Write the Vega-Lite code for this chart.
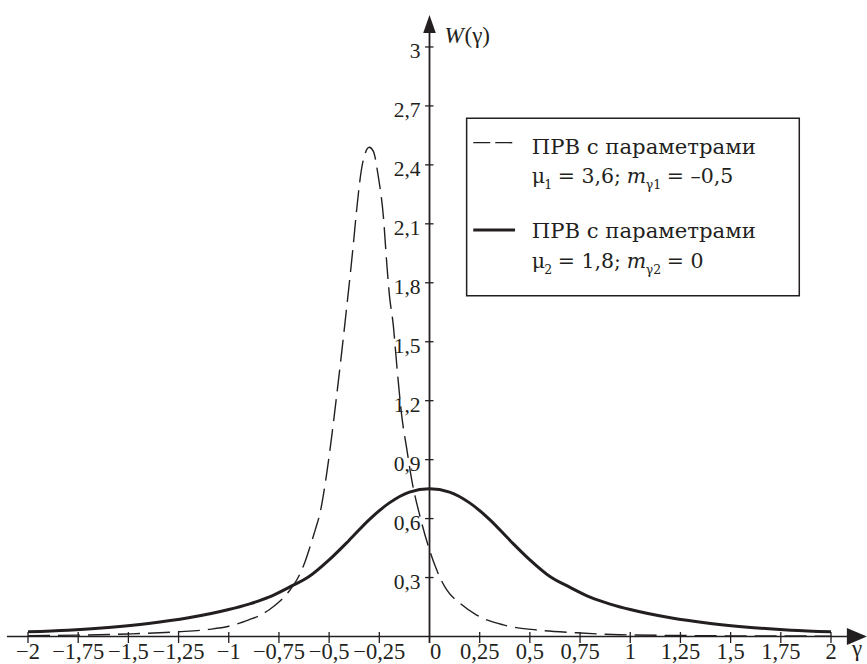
{
  "$schema": "https://vega.github.io/schema/vega-lite/v6.json",
  "width": 867,
  "height": 664,
  "autosize": {"type": "none"},
  "padding": 0,
  "background": "white",
  "config": {"view": {"stroke": null}, "text": {"color": "#231f20"}},
  "datasets": {
    "prv1": [
      {"g": -2.0, "w": 0.004}, {"g": -1.75, "w": 0.007}, {"g": -1.5, "w": 0.013}, {"g": -1.25, "w": 0.024},
      {"g": -1.1, "w": 0.036}, {"g": -1.0, "w": 0.052}, {"g": -0.9, "w": 0.085}, {"g": -0.85, "w": 0.105},
      {"g": -0.8, "w": 0.135}, {"g": -0.75, "w": 0.175}, {"g": -0.7, "w": 0.23}, {"g": -0.66, "w": 0.29},
      {"g": -0.62, "w": 0.38}, {"g": -0.595, "w": 0.457}, {"g": -0.57, "w": 0.54}, {"g": -0.545, "w": 0.63},
      {"g": -0.512, "w": 0.83}, {"g": -0.487, "w": 1.02}, {"g": -0.462, "w": 1.23}, {"g": -0.437, "w": 1.45},
      {"g": -0.412, "w": 1.68}, {"g": -0.395, "w": 1.84}, {"g": -0.38, "w": 1.99}, {"g": -0.363, "w": 2.17},
      {"g": -0.34, "w": 2.37}, {"g": -0.32, "w": 2.46}, {"g": -0.3, "w": 2.49}, {"g": -0.28, "w": 2.47},
      {"g": -0.255, "w": 2.34}, {"g": -0.23, "w": 2.14}, {"g": -0.213, "w": 1.9}, {"g": -0.2, "w": 1.74},
      {"g": -0.18, "w": 1.58}, {"g": -0.163, "w": 1.38}, {"g": -0.138, "w": 1.12}, {"g": -0.114, "w": 0.96},
      {"g": -0.089, "w": 0.8}, {"g": -0.047, "w": 0.61}, {"g": -0.006, "w": 0.46}, {"g": 0.036, "w": 0.338},
      {"g": 0.086, "w": 0.237}, {"g": 0.152, "w": 0.169}, {"g": 0.235, "w": 0.109}, {"g": 0.368, "w": 0.059},
      {"g": 0.534, "w": 0.033}, {"g": 0.733, "w": 0.019}, {"g": 0.949, "w": 0.009}, {"g": 1.25, "w": 0.005},
      {"g": 1.5, "w": 0.003}, {"g": 2.0, "w": 0.002}
    ],
    "prv2": [
      {"g": -2.0, "w": 0.024}, {"g": -1.8, "w": 0.032}, {"g": -1.6, "w": 0.046}, {"g": -1.4, "w": 0.066},
      {"g": -1.2, "w": 0.095}, {"g": -1.0, "w": 0.137}, {"g": -0.9, "w": 0.165}, {"g": -0.8, "w": 0.2},
      {"g": -0.7, "w": 0.25}, {"g": -0.6, "w": 0.305}, {"g": -0.5, "w": 0.39}, {"g": -0.4, "w": 0.49},
      {"g": -0.3, "w": 0.595}, {"g": -0.2, "w": 0.68}, {"g": -0.1, "w": 0.735}, {"g": 0.0, "w": 0.752},
      {"g": 0.1, "w": 0.735}, {"g": 0.2, "w": 0.68}, {"g": 0.3, "w": 0.595}, {"g": 0.4, "w": 0.49},
      {"g": 0.5, "w": 0.39}, {"g": 0.6, "w": 0.305}, {"g": 0.7, "w": 0.25}, {"g": 0.8, "w": 0.2},
      {"g": 0.9, "w": 0.165}, {"g": 1.0, "w": 0.137}, {"g": 1.2, "w": 0.095}, {"g": 1.4, "w": 0.066},
      {"g": 1.6, "w": 0.046}, {"g": 1.8, "w": 0.032}, {"g": 2.0, "w": 0.024}
    ],
    "xt": [
      {"v": -2, "t": "−2"}, {"v": -1.75, "t": "−1,75"}, {"v": -1.5, "t": "−1,5"}, {"v": -1.25, "t": "−1,25"},
      {"v": -1, "t": "−1"}, {"v": -0.75, "t": "−0,75"}, {"v": -0.5, "t": "−0,5"}, {"v": -0.25, "t": "−0,25"},
      {"v": 0.25, "t": "0,25"}, {"v": 0.5, "t": "0,5"}, {"v": 0.75, "t": "0,75"}, {"v": 1, "t": "1"},
      {"v": 1.25, "t": "1,25"}, {"v": 1.5, "t": "1,5"}, {"v": 1.75, "t": "1,75"}, {"v": 2, "t": "2"}
    ],
    "xt0": [{"v": 0, "t": "0"}],
    "yt": [
      {"v": 0.3, "t": "0,3"}, {"v": 0.6, "t": "0,6"}, {"v": 0.9, "t": "0,9"}, {"v": 1.2, "t": "1,2"},
      {"v": 1.5, "t": "1,5"}, {"v": 1.8, "t": "1,8"}, {"v": 2.1, "t": "2,1"}, {"v": 2.4, "t": "2,4"},
      {"v": 2.7, "t": "2,7"}, {"v": 3, "t": "3"}
    ],
    "one": [{}]
  },
  "layer": [
    {
      "data": {"name": "prv2"},
      "mark": {"type": "line", "interpolate": "monotone", "strokeWidth": 3, "color": "#231f20"},
      "encoding": {
        "x": {"field": "g", "type": "quantitative", "scale": {"domain": [-2.1395, 2.1793], "nice": false, "zero": false}, "axis": null},
        "y": {"field": "w", "type": "quantitative", "scale": {"domain": [-0.14, 3.239], "nice": false, "zero": false}, "axis": null}
      }
    },
    {
      "data": {"name": "prv1"},
      "mark": {"type": "line", "interpolate": "monotone", "strokeWidth": 1.4, "strokeDash": [22, 8], "color": "#231f20"},
      "encoding": {
        "x": {"field": "g", "type": "quantitative"},
        "y": {"field": "w", "type": "quantitative"}
      }
    },
    {
      "data": {"name": "one"},
      "mark": {"type": "rect", "fill": "white", "stroke": "#231f20", "strokeWidth": 1.5},
      "encoding": {
        "x": {"datum": 0.185, "type": "quantitative"},
        "x2": {"datum": 1.842},
        "y": {"datum": 2.637, "type": "quantitative"},
        "y2": {"datum": 1.734}
      }
    },
    {
      "data": {"name": "one"},
      "mark": {"type": "rule", "strokeWidth": 1.6, "color": "#231f20"},
      "encoding": {
        "x": {"datum": -2.105, "type": "quantitative"},
        "x2": {"datum": 2.13},
        "y": {"datum": 0, "type": "quantitative"}
      }
    },
    {
      "data": {"name": "one"},
      "mark": {"type": "rule", "strokeWidth": 1.8, "color": "#231f20"},
      "encoding": {
        "x": {"datum": 0, "type": "quantitative"},
        "y": {"datum": -0.033, "type": "quantitative"},
        "y2": {"datum": 3.12}
      }
    },
    {
      "data": {"name": "xt"},
      "mark": {"type": "rule", "strokeWidth": 1.3, "color": "#231f20"},
      "encoding": {
        "x": {"field": "v", "type": "quantitative"},
        "y": {"datum": -0.033, "type": "quantitative"},
        "y2": {"datum": 0.023}
      }
    },
    {
      "data": {"name": "yt"},
      "mark": {"type": "rule", "strokeWidth": 1.3, "color": "#231f20"},
      "encoding": {
        "y": {"field": "v", "type": "quantitative"},
        "x": {"datum": -0.022, "type": "quantitative"},
        "x2": {"datum": 0.02}
      }
    },
    {
      "data": {"name": "one"},
      "mark": {"type": "point", "shape": "M 1 0 L -1 -0.85 L -1 0.85 Z", "size": 400, "filled": true, "opacity": 1, "color": "#231f20"},
      "encoding": {
        "x": {"datum": 2.129, "type": "quantitative"},
        "y": {"datum": 0, "type": "quantitative"}
      }
    },
    {
      "data": {"name": "one"},
      "mark": {"type": "point", "shape": "M 0 -1 L 0.7 1 L -0.7 1 Z", "size": 324, "filled": true, "opacity": 1, "color": "#231f20"},
      "encoding": {
        "x": {"datum": 0, "type": "quantitative"},
        "y": {"datum": 3.117, "type": "quantitative"}
      }
    },
    {
      "data": {"name": "xt"},
      "mark": {"type": "text", "font": "Liberation Serif", "fontSize": 22.5, "align": "center", "baseline": "alphabetic", "dy": 23},
      "encoding": {
        "x": {"field": "v", "type": "quantitative"},
        "y": {"datum": 0, "type": "quantitative"},
        "text": {"field": "t"}
      }
    },
    {
      "data": {"name": "xt0"},
      "mark": {"type": "text", "font": "Liberation Serif", "fontSize": 22.5, "align": "center", "baseline": "alphabetic", "dy": 23, "dx": 6},
      "encoding": {
        "x": {"field": "v", "type": "quantitative"},
        "y": {"datum": 0, "type": "quantitative"},
        "text": {"field": "t"}
      }
    },
    {
      "data": {"name": "yt"},
      "mark": {"type": "text", "font": "Liberation Serif", "fontSize": 21.5, "align": "right", "baseline": "alphabetic", "dy": 11, "dx": -9},
      "encoding": {
        "y": {"field": "v", "type": "quantitative"},
        "x": {"datum": 0, "type": "quantitative"},
        "text": {"field": "t"}
      }
    },
    {
      "data": {"name": "one"},
      "mark": {"type": "text", "text": "W", "font": "Liberation Serif", "fontStyle": "italic", "fontSize": 23, "align": "left", "baseline": "alphabetic", "dx": 15, "dy": -3.5},
      "encoding": {
        "x": {"datum": 0, "type": "quantitative"},
        "y": {"datum": 3, "type": "quantitative"}
      }
    },
    {
      "data": {"name": "one"},
      "mark": {"type": "text", "text": "(γ)", "font": "Liberation Serif", "fontSize": 23, "align": "left", "baseline": "alphabetic", "dx": 35, "dy": -3.5},
      "encoding": {
        "x": {"datum": 0, "type": "quantitative"},
        "y": {"datum": 3, "type": "quantitative"}
      }
    },
    {
      "data": {"name": "one"},
      "mark": {"type": "text", "text": "γ", "font": "Liberation Serif", "fontSize": 23, "align": "left", "baseline": "alphabetic", "dx": 21, "dy": 20},
      "encoding": {
        "x": {"datum": 2, "type": "quantitative"},
        "y": {"datum": 0, "type": "quantitative"}
      }
    },
    {
      "data": {"name": "one"},
      "mark": {"type": "rule", "strokeWidth": 1.4, "strokeDash": [17, 5], "color": "#231f20"},
      "encoding": {
        "x": {"datum": 0.218, "type": "quantitative"},
        "x2": {"datum": 0.417},
        "y": {"datum": 2.513, "type": "quantitative"}
      }
    },
    {
      "data": {"name": "one"},
      "mark": {"type": "rule", "strokeWidth": 3, "color": "#231f20"},
      "encoding": {
        "x": {"datum": 0.218, "type": "quantitative"},
        "x2": {"datum": 0.426},
        "y": {"datum": 2.069, "type": "quantitative"}
      }
    },
    {
      "data": {"name": "one"},
      "mark": {"type": "text", "text": "ПРВ с параметрами", "font": "DejaVu Serif", "fontSize": 21.2, "align": "left", "baseline": "alphabetic"},
      "encoding": {"x": {"datum": 0.509, "type": "quantitative"}, "y": {"datum": 2.455, "type": "quantitative"}}
    },
    {
      "data": {"name": "one"},
      "mark": {"type": "text", "text": "ПРВ с параметрами", "font": "DejaVu Serif", "fontSize": 21.2, "align": "left", "baseline": "alphabetic"},
      "encoding": {"x": {"datum": 0.509, "type": "quantitative"}, "y": {"datum": 2.026, "type": "quantitative"}}
    },
    {
      "data": {"name": "one"},
      "mark": {"type": "text", "text": "μ", "font": "DejaVu Serif", "fontSize": 20.5, "align": "left", "baseline": "alphabetic"},
      "encoding": {"x": {"datum": 0.509, "type": "quantitative"}, "y": {"datum": 2.308, "type": "quantitative"}}
    },
    {
      "data": {"name": "one"},
      "mark": {"type": "text", "text": "1", "font": "DejaVu Serif", "fontSize": 12.5, "align": "left", "baseline": "alphabetic", "dx": 12.5, "dy": 6},
      "encoding": {"x": {"datum": 0.509, "type": "quantitative"}, "y": {"datum": 2.308, "type": "quantitative"}}
    },
    {
      "data": {"name": "one"},
      "mark": {"type": "text", "text": "= 3,6;", "font": "DejaVu Serif", "fontSize": 20.5, "align": "left", "baseline": "alphabetic", "dx": 26},
      "encoding": {"x": {"datum": 0.509, "type": "quantitative"}, "y": {"datum": 2.308, "type": "quantitative"}}
    },
    {
      "data": {"name": "one"},
      "mark": {"type": "text", "text": "m", "font": "DejaVu Serif", "fontStyle": "italic", "fontSize": 20.5, "align": "left", "baseline": "alphabetic", "dx": 95},
      "encoding": {"x": {"datum": 0.509, "type": "quantitative"}, "y": {"datum": 2.308, "type": "quantitative"}}
    },
    {
      "data": {"name": "one"},
      "mark": {"type": "text", "text": "γ1", "font": "DejaVu Serif", "fontSize": 12.5, "align": "left", "baseline": "alphabetic", "dx": 114, "dy": 6},
      "encoding": {"x": {"datum": 0.509, "type": "quantitative"}, "y": {"datum": 2.308, "type": "quantitative"}}
    },
    {
      "data": {"name": "one"},
      "mark": {"type": "text", "text": "= –0,5", "font": "DejaVu Serif", "fontSize": 20.5, "align": "left", "baseline": "alphabetic", "dx": 135},
      "encoding": {"x": {"datum": 0.509, "type": "quantitative"}, "y": {"datum": 2.308, "type": "quantitative"}}
    },
    {
      "data": {"name": "one"},
      "mark": {"type": "text", "text": "μ", "font": "DejaVu Serif", "fontSize": 20.5, "align": "left", "baseline": "alphabetic"},
      "encoding": {"x": {"datum": 0.509, "type": "quantitative"}, "y": {"datum": 1.874, "type": "quantitative"}}
    },
    {
      "data": {"name": "one"},
      "mark": {"type": "text", "text": "2", "font": "DejaVu Serif", "fontSize": 12.5, "align": "left", "baseline": "alphabetic", "dx": 12.5, "dy": 6},
      "encoding": {"x": {"datum": 0.509, "type": "quantitative"}, "y": {"datum": 1.874, "type": "quantitative"}}
    },
    {
      "data": {"name": "one"},
      "mark": {"type": "text", "text": "= 1,8;", "font": "DejaVu Serif", "fontSize": 20.5, "align": "left", "baseline": "alphabetic", "dx": 26},
      "encoding": {"x": {"datum": 0.509, "type": "quantitative"}, "y": {"datum": 1.874, "type": "quantitative"}}
    },
    {
      "data": {"name": "one"},
      "mark": {"type": "text", "text": "m", "font": "DejaVu Serif", "fontStyle": "italic", "fontSize": 20.5, "align": "left", "baseline": "alphabetic", "dx": 95},
      "encoding": {"x": {"datum": 0.509, "type": "quantitative"}, "y": {"datum": 1.874, "type": "quantitative"}}
    },
    {
      "data": {"name": "one"},
      "mark": {"type": "text", "text": "γ2", "font": "DejaVu Serif", "fontSize": 12.5, "align": "left", "baseline": "alphabetic", "dx": 114, "dy": 6},
      "encoding": {"x": {"datum": 0.509, "type": "quantitative"}, "y": {"datum": 1.874, "type": "quantitative"}}
    },
    {
      "data": {"name": "one"},
      "mark": {"type": "text", "text": "= 0", "font": "DejaVu Serif", "fontSize": 20.5, "align": "left", "baseline": "alphabetic", "dx": 135},
      "encoding": {"x": {"datum": 0.509, "type": "quantitative"}, "y": {"datum": 1.874, "type": "quantitative"}}
    }
  ]
}
